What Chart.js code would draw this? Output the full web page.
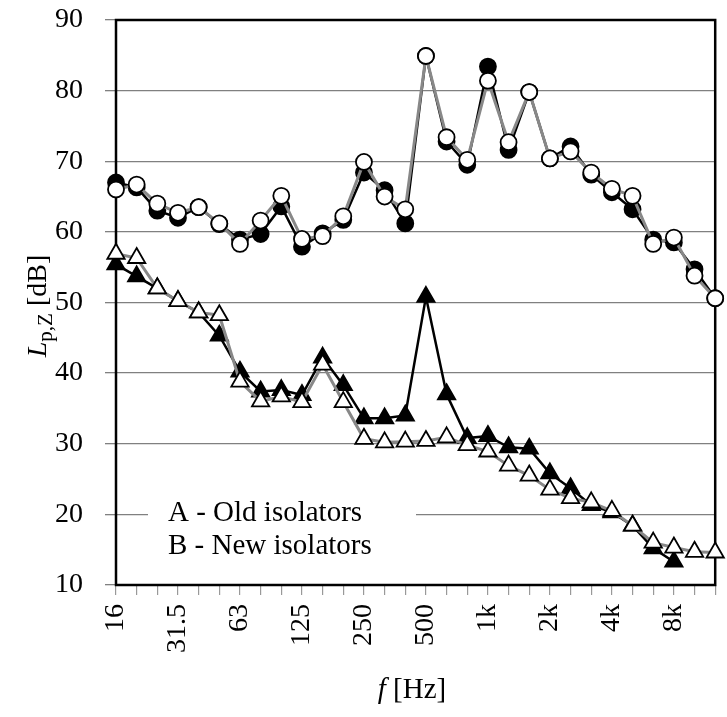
<!DOCTYPE html>
<html>
<head>
<meta charset="utf-8">
<script src="https://cdn.jsdelivr.net/npm/chart.js@4.4.0/dist/chart.umd.min.js"></script>
<style>
    html, body { margin: 0; padding: 0; background: #fff; }
    #wrap { width: 727px; height: 717px; position: relative; }
</style>
</head>
<body>
<div id="wrap"><canvas id="spectrumChart"></canvas></div>
<script>
// 1/3-octave bands, 16 Hz .. 12.5 kHz
const bands = ['16', '20', '25', '31.5', '40', '50', '63', '80', '100', '125', '160', '200',
    '250', '315', '400', '500', '630', '800', '1k', '1.25k', '1.6k', '2k', '2.5k', '3.15k',
    '4k', '5k', '6.3k', '8k', '10k', '12.5k'];
const tickLabels = ['16', '31.5', '63', '125', '250', '500', '1k', '2k', '4k', '8k'];
const yTicks = [10, 20, 30, 40, 50, 60, 70, 80, 90];

const circlesFilled = [67.0, 66.3, 63.0, 62.0, 63.5, 61.1, 58.9, 59.7, 63.6, 57.9, 59.8, 61.7,
    68.4, 65.9, 61.2, 84.9, 72.8, 69.5, 83.4, 71.6, 79.8, 70.4, 72.1, 68.1,
    65.6, 63.2, 58.9, 58.5, 54.7, 50.6];
const circlesOpen = [66.0, 66.7, 64.0, 62.7, 63.5, 61.2, 58.3, 61.6, 65.1, 59.0, 59.4, 62.2,
    69.9, 65.0, 63.2, 84.9, 73.4, 70.2, 81.4, 72.7, 79.8, 70.4, 71.4, 68.4,
    66.1, 65.1, 58.3, 59.2, 53.8, 50.6];
const trianglesFilled = [55.4, 53.7, 52.0, 50.2, 48.6, 45.3, 40.2, 37.4, 37.6, 36.9, 42.2, 38.3,
    33.6, 33.6, 34.0, 50.8, 37.0, 30.8, 31.1, 29.5, 29.3, 25.8, 23.7, 21.3,
    20.3, 18.4, 15.2, 13.3, null, null];
const trianglesOpen = [56.9, 56.3, 52.0, 50.2, 48.6, 48.2, 38.8, 36.0, 36.7, 35.9, 41.2, 35.9,
    30.7, 30.2, 30.3, 30.4, 30.9, 29.8, 28.9, 26.9, 25.5, 23.5, 22.3, 21.7,
    20.5, 18.4, 16.0, 15.3, 14.7, 14.6];

const legendLines = ['A - Old isolators', 'B - New isolators'];

const SERIF = "'Liberation Serif', 'Times New Roman', serif";
const GRID = '#808080';

function series(data, style, filled) {
    return {
        data: data,
        borderColor: filled ? '#000' : '#888',
        borderWidth: filled ? 2.5 : 3,
        pointStyle: style,
        pointRadius: style === 'triangle' ? 10 : 8,
        pointBorderWidth: 1.8,
        pointBorderColor: '#000',
        pointBackgroundColor: filled ? '#000' : '#fff',
        tension: 0,
        clip: false
    };
}

// frame, legend box and axis titles
const decorations = {
    id: 'decorations',
    beforeDatasetsDraw(chart) {
        const { ctx, chartArea: a } = chart;
        ctx.save();
        ctx.fillStyle = '#fff';
        ctx.fillRect(148, 470, 268, 108);
        ctx.strokeStyle = '#000';
        ctx.lineWidth = 2.5;
        ctx.strokeRect(a.left, a.top, a.right - a.left, a.bottom - a.top);
        ctx.fillStyle = '#000';
        ctx.font = '29px ' + SERIF;
        ctx.textBaseline = 'alphabetic';
        ctx.fillText(legendLines[0], 168, 521);
        ctx.fillText(legendLines[1], 168, 554);
        ctx.restore();
    },
    afterDraw(chart) {
        const ctx = chart.ctx;
        ctx.save();
        ctx.fillStyle = '#000';
        ctx.textBaseline = 'alphabetic';

        // y title: L_p,Z [dB]
        ctx.translate(46, 306);
        ctx.rotate(-Math.PI / 2);
        const mainFont = '28px ' + SERIF;
        const italFont = 'italic 28px ' + SERIF;
        const subFont = '21px ' + SERIF;
        ctx.font = italFont; const wL = ctx.measureText('L').width;
        ctx.font = subFont; const wS = ctx.measureText('p,Z').width;
        ctx.font = mainFont; const wU = ctx.measureText(' [dB]').width;
        let x = -(wL + wS + wU) / 2;
        ctx.font = italFont; ctx.fillText('L', x, 0); x += wL;
        ctx.font = subFont; ctx.fillText('p,Z', x, 6); x += wS;
        ctx.font = mainFont; ctx.fillText(' [dB]', x, 0);
        ctx.setTransform(1, 0, 0, 1, 0, 0);

        // x title: f [Hz]
        ctx.font = 'italic 29px ' + SERIF; const wf = ctx.measureText('f').width;
        ctx.font = '29px ' + SERIF; const wh = ctx.measureText(' [Hz]').width;
        let xx = 412 - (wf + wh) / 2;
        ctx.font = 'italic 29px ' + SERIF; ctx.fillText('f', xx, 698); xx += wf;
        ctx.font = '29px ' + SERIF; ctx.fillText(' [Hz]', xx, 698);
        ctx.restore();
    }
};

new Chart(document.getElementById('spectrumChart'), {
    type: 'line',
    data: {
        labels: bands,
        datasets: [
            series(circlesOpen, 'circle', false),
            series(trianglesOpen, 'triangle', false),
            series(circlesFilled, 'circle', true),
            series(trianglesFilled, 'triangle', true)
        ]
    },
    options: {
        responsive: true,
        maintainAspectRatio: false,
        animation: false,
        layout: { padding: { top: 20, right: 2, bottom: 0, left: 0 } },
        plugins: {
            legend: { display: false },
            tooltip: { enabled: false }
        },
        scales: {
            x: {
                type: 'category',
                offset: false,
                border: { display: false },
                grid: {
                    drawOnChartArea: false,
                    drawTicks: true,
                    tickLength: 10,
                    color: '#999',
                    lineWidth: 1.2
                },
                ticks: {
                    autoSkip: false,
                    maxRotation: 90,
                    minRotation: 90,
                    padding: 9,
                    color: '#000',
                    font: { family: SERIF, size: 28 },
                    callback: function (value, index) {
                        const lab = bands[index];
                        return tickLabels.includes(lab) ? lab : '';
                    }
                },
                afterFit(scale) {
                    scale.height = 132;
                    scale.paddingLeft = 0;
                    scale.paddingRight = 0;
                }
            },
            y: {
                min: 10,
                max: 90,
                border: { display: false },
                grid: {
                    color: GRID,
                    lineWidth: 1.3,
                    tickLength: 11
                },
                afterBuildTicks(scale) {
                    scale.ticks = yTicks.map(v => ({ value: v }));
                },
                ticks: {
                    padding: 22,
                    color: '#000',
                    font: { family: SERIF, size: 28 }
                },
                afterFit(scale) {
                    scale.width = 116;
                    scale.paddingTop = 0;
                    scale.paddingBottom = 0;
                }
            }
        }
    },
    plugins: [decorations]
});
</script>
</body>
</html>
